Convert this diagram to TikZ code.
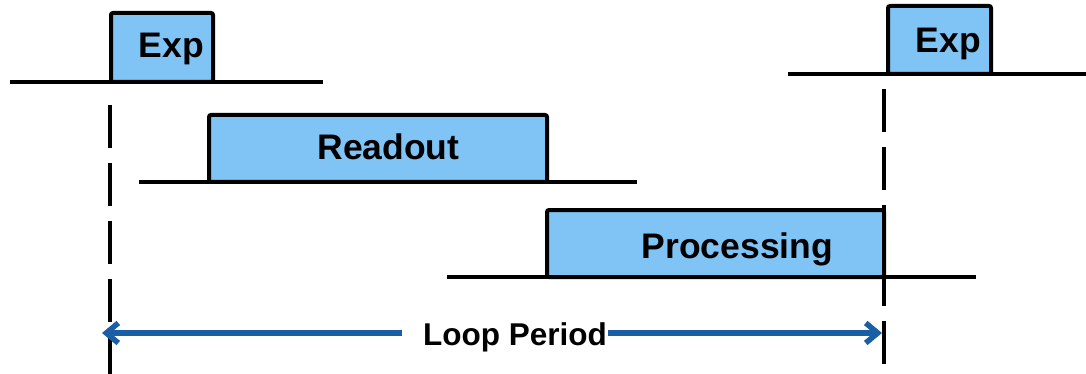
\documentclass[tikz,border=0pt]{standalone}
\usepackage{fontspec}
\setmainfont{Liberation Sans}
\usetikzlibrary{arrows.meta}
\definecolor{boxblue}{RGB}{128,196,246}
\definecolor{arrblue}{RGB}{26,95,165}
\tikzset{
  phase/.style={draw=black, line width=4pt, fill=boxblue, rounded corners=2pt, inner sep=0pt},
  lbl/.style={anchor=base, inner sep=0pt, font=\fontsize{35.5}{37}\selectfont\bfseries},
  axis/.style={draw=black, line width=4pt},
  guide/.style={draw=black, line width=4pt, dash pattern=on 43pt off 15pt},
  period/.style={draw=arrblue, line width=5.5pt, -{Straight Barb[length=12pt,width=20pt]}},
  plbl/.style={anchor=base, inner sep=0pt, font=\fontsize{31.5}{33}\selectfont\bfseries}
}
\begin{document}
\begin{tikzpicture}[x=1pt,y=-1pt]
\useasboundingbox (0,0) rectangle (1086,374);
% phase boxes
\node[phase, minimum width=102pt, minimum height=69pt] (exp1) at (162,47.5) {};
\node[phase, minimum width=338pt, minimum height=67pt] (ro) at (378,148.5) {};
\node[phase, minimum width=337pt, minimum height=67pt] (proc) at (715.5,243.5) {};
\node[phase, minimum width=103pt, minimum height=68pt] (exp2) at (939.5,40) {};
% labels
\node[lbl] (t1) at (171.5,58) {Exp};
\node[lbl] (t2) at (388.5,160) {Readout};
\node[lbl] (t3) at (737.5,258) {Processing};
\node[lbl] (t4) at (948.5,53) {Exp};
% baselines
\coordinate (a1) at (10,82);   \coordinate (b1) at (323,82);
\coordinate (a2) at (139,182); \coordinate (b2) at (637,182);
\coordinate (a3) at (447,277); \coordinate (b3) at (976,277);
\coordinate (a4) at (788,74);  \coordinate (b4) at (1086,74);
\draw[axis] (a1) -- (b1);
\draw[axis] (a2) -- (b2);
\draw[axis] (a3) -- (b3);
\draw[axis] (a4) -- (b4);
% guide lines
\coordinate (g1t) at (110,105); \coordinate (g1b) at (110,380);
\coordinate (g2t) at (884,89);  \coordinate (g2b) at (884,367);
\draw[guide] (g1t) -- (g1b);
\draw[guide] (g2t) -- (g2b);
% loop period
\node[plbl] (lp) at (515,345) {Loop Period};
\coordinate (l1) at (402,333); \coordinate (lt) at (102,333);
\coordinate (r1) at (608,333); \coordinate (rt) at (882,333);
\draw[period] (l1) -- (lt);
\draw[period] (r1) -- (rt);
\end{tikzpicture}
\end{document}
